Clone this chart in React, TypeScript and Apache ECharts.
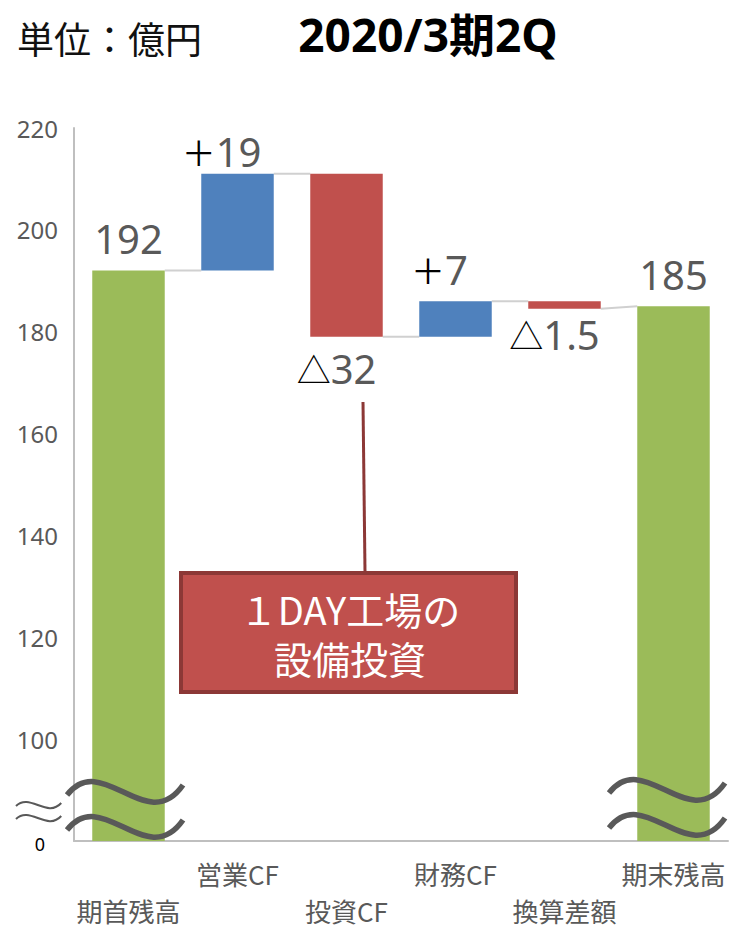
import React, { useEffect, useRef } from "react";
import * as echarts from "echarts";

const categories = ["期首残高", "営業CF", "投資CF", "財務CF", "換算差額", "期末残高"];
const values = [192, 19, -32, 7, -1.5, 185];
const isTotal = [true, false, false, false, false, true];
const valueTexts = ["192", "19", "32", "7", "1.5", "185"];
const yMin = 80;
const yMax = 220;
const yInterval = 20;
const breakLabel = "0";

const GREEN = "#9BBB59";
const BLUE = "#4F81BD";
const RED = "#C0504D";
const GREY = "#595959";

// label gap from bar edge (style only)
const labelGap = [12, 2, 12, 12, 6, 12];

function buildWaterfall() {
  const base: number[] = [];
  const bars: any[] = [];
  const connectors: number[][] = [];
  let level = 0;
  const ends: number[] = [];
  values.forEach((v, i) => {
    if (isTotal[i]) {
      base.push(0);
      ends.push(v);
      level = v;
      bars.push({
        value: v,
        itemStyle: { color: GREEN },
        label: {
          show: true,
          position: "top",
          distance: labelGap[i],
          formatter: "{n|" + valueTexts[i] + "}",
        },
      });
    } else {
      const s = level;
      const e = level + v;
      ends.push(e);
      base.push(Math.min(s, e));
      level = e;
      const pos = v > 0;
      bars.push({
        value: Math.abs(v),
        itemStyle: { color: pos ? BLUE : RED },
        label: {
          show: true,
          position: pos ? "top" : "bottom",
          distance: labelGap[i],
          offset: pos ? [-16, 0] : [-10, 0],
          formatter: "{s|" + (pos ? "＋" : "△") + "}{n|" + valueTexts[i] + "}",
        },
      });
    }
  });
  for (let i = 0; i < values.length - 1; i++) {
    const nextStart = isTotal[i + 1] ? values[i + 1] : ends[i];
    connectors.push([i, ends[i], nextStart]);
  }
  return { base, bars, connectors };
}

function squiggle(x0: number, y0: number, sx: number, sy: number, lw: number) {
  return {
    type: "bezierCurve",
    shape: {
      x1: x0,
      y1: y0,
      cpx1: x0 + 35 * sx,
      cpy1: y0 - 45 * sy,
      cpx2: x0 + 80 * sx,
      cpy2: y0 + 42 * sy,
      x2: x0 + 116 * sx,
      y2: y0 - 10 * sy,
    },
    style: { stroke: GREY, lineWidth: lw, fill: null, lineCap: "butt" },
    z: 100,
  };
}

export default function App() {
  const ref = useRef<HTMLDivElement>(null);
  useEffect(() => {
    if (!ref.current) return;
    const chart = echarts.init(ref.current, undefined, { renderer: "svg" });
    const { base, bars, connectors } = buildWaterfall();
    const barFrac = 0.665;

    const option: any = {
      animation: false,
      grid: { left: 74, right: 14, top: 128, bottom: 84 },
      xAxis: {
        type: "category",
        data: categories,
        axisLine: { lineStyle: { color: "#BFBFBF", width: 2 } },
        axisTick: { show: false },
        axisLabel: {
          interval: 0,
          color: GREY,
          fontSize: 26,
          fontFamily: "Noto Sans CJK JP",
          lineHeight: 37,
          margin: 14,
          formatter: (v: string, i: number) => (i % 2 === 0 ? "\n" + v : v),
        },
      },
      yAxis: {
        type: "value",
        min: yMin,
        max: yMax,
        interval: yInterval,
        splitLine: { show: false },
        axisLine: { show: true, lineStyle: { color: "#BFBFBF", width: 2 } },
        axisTick: { show: false },
        axisLabel: {
          color: GREY,
          fontSize: 24,
          fontFamily: "Noto Sans",
          margin: 16,
          formatter: (v: number) => (v === yMin ? "{z|" + breakLabel + "}" : String(v)),
          rich: {
            z: { fontSize: 18, color: "#000", fontFamily: "Noto Sans", padding: [6, 13, 0, 0] },
          },
        },
      },
      series: [
        {
          type: "bar",
          stack: "w",
          barWidth: barFrac * 100 + "%",
          itemStyle: { color: "transparent" },
          emphasis: { disabled: true },
          data: base,
        },
        {
          type: "bar",
          stack: "w",
          barWidth: barFrac * 100 + "%",
          data: bars,
          label: {
            rich: {
              n: { color: GREY, fontSize: 40, fontFamily: "Noto Sans" },
              s: { color: "#000", fontSize: 34, fontFamily: "Noto Sans CJK JP" },
            },
          },
        },
        {
          type: "custom",
          data: connectors,
          z: 1,
          renderItem: (params: any, api: any) => {
            const i = api.value(0);
            const p1 = api.coord([i, api.value(1)]);
            const p2 = api.coord([i + 1, api.value(2)]);
            const half = (api.size([1, 0])[0] * barFrac) / 2;
            return {
              type: "line",
              shape: { x1: p1[0] + half, y1: p1[1], x2: p2[0] - half, y2: p2[1] },
              style: { stroke: "#D0D0D0", lineWidth: 2 },
            };
          },
        },
      ],
      graphic: [
        {
          type: "text",
          style: {
            text: "単位：億円",
            x: 17,
            y: 38,
            verticalAlign: "middle",
            font: '37px "Noto Sans CJK JP"',
            fill: "#111",
          },
        },
        {
          type: "text",
          style: {
            text: "2020/3期2Q",
            x: 428,
            y: 34,
            align: "center",
            verticalAlign: "middle",
            font: 'bold 46px "Noto Sans", "Noto Sans CJK JP"',
            fill: "#000",
          },
        },
        squiggle(67, 795, 1, 1, 5.5),
        squiggle(67, 830, 1, 1, 5.5),
        squiggle(609, 793, 1, 1, 5.5),
        squiggle(609, 828, 1, 1, 5.5),
        squiggle(16, 806, 0.39, 0.3, 2),
        squiggle(16, 819, 0.39, 0.3, 2),
        {
          type: "line",
          shape: { x1: 363, y1: 402, x2: 365, y2: 572 },
          style: { stroke: "#8C3836", lineWidth: 3 },
          z: 50,
        },
        {
          type: "rect",
          shape: { x: 181, y: 573, width: 335, height: 119 },
          style: { fill: RED, stroke: "#8C3836", lineWidth: 4 },
          z: 50,
        },
        {
          type: "text",
          style: {
            text: "１DAY工場の",
            x: 350,
            y: 608,
            align: "center",
            verticalAlign: "middle",
            font: '38px "Noto Sans CJK JP"',
            fill: "#fff",
          },
          z: 51,
        },
        {
          type: "text",
          style: {
            text: "設備投資",
            x: 350,
            y: 657,
            align: "center",
            verticalAlign: "middle",
            font: '38px "Noto Sans CJK JP"',
            fill: "#fff",
          },
          z: 51,
        },
      ],
    };
    chart.setOption(option);
    return () => chart.dispose();
  }, []);
  return (
    <div
      ref={ref}
      style={{ position: "absolute", left: 0, top: 0, width: 742, height: 929, background: "#fff" }}
    />
  );
}
